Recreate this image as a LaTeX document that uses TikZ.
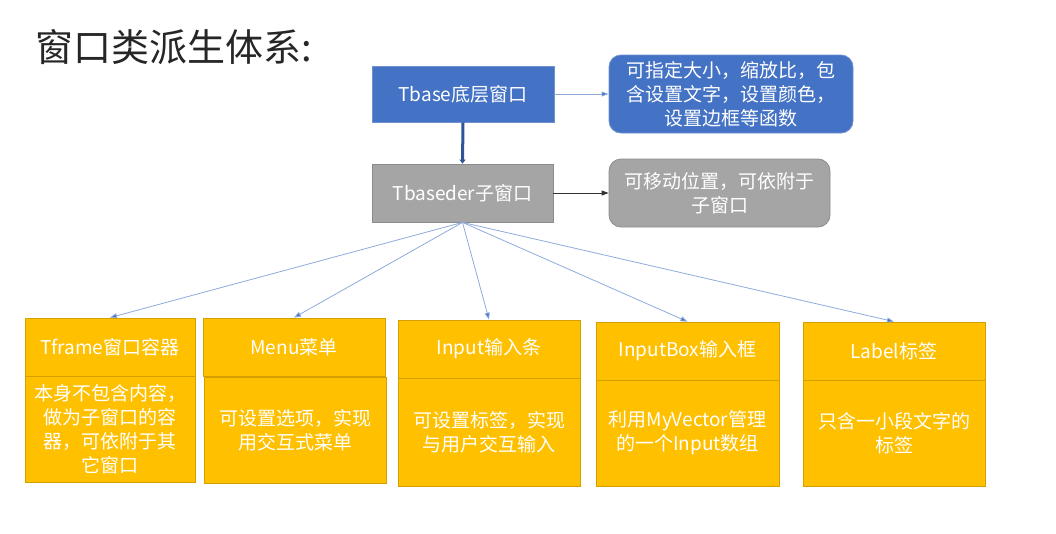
\documentclass[tikz,border=0pt]{standalone}
\usepackage{fontspec}
\setmainfont{Noto Sans CJK SC}
\usetikzlibrary{arrows.meta}
\definecolor{bfill}{HTML}{4472C4}
\definecolor{bline}{HTML}{7090D0}
\definecolor{gfill}{HTML}{A5A5A5}
\definecolor{gline}{HTML}{8C8C8C}
\definecolor{yfill}{HTML}{FFC000}
\definecolor{yline}{HTML}{D4A000}
\definecolor{conn}{HTML}{8FAADC}
\definecolor{tipb}{HTML}{4472C4}
\definecolor{darkb}{HTML}{2F5597}
\definecolor{titlec}{HTML}{262626}
\tikzset{
  box/.style={inner sep=0pt, align=center, text=white, line width=0.8pt,
    font=\fontsize{19}{24}\selectfont},
  bluebox/.style={box, fill=bfill, draw=bline},
  graybox/.style={box, fill=gfill, draw=gline},
  ybox/.style={box, fill=yfill, draw=yline},
  conline/.style={draw=conn, line width=0.8pt, -{Triangle[length=7pt,width=5pt,fill=tipb]}},
}
\begin{document}
\begin{tikzpicture}[x=1pt,y=-1pt]
\useasboundingbox (0,0) rectangle (1056,533);
% title
\node[anchor=west, text=titlec, font=\fontsize{38}{42}\selectfont, inner sep=0pt] (title) at (35,47) {窗口类派生体系:};
% upper boxes
\node[bluebox, minimum width=182pt, minimum height=56pt] (tbase) at (463,94) {Tbase底层窗口};
\node[graybox, minimum width=181pt, minimum height=58pt] (tbd) at (462.5,193) {Tbaseder子窗口};
\node[bluebox, rounded corners=12pt, minimum width=244pt, minimum height=78pt] (note1) at (731,94) {可指定大小，缩放比，包\\含设置文字，设置颜色，\\设置边框等函数};
\node[graybox, rounded corners=12pt, minimum width=221pt, minimum height=68pt] (note2) at (719.5,193) {可移动位置，可依附于\\子窗口};
% lower boxes
\node[ybox, minimum width=170pt, minimum height=58pt] (tframe) at (110,347) {Tframe窗口容器};
\node[ybox, minimum width=170pt, minimum height=106pt] (tframeD) at (110,429) {本身不包含内容，\\做为子窗口的容\\器，可依附于其\\它窗口};
\node[ybox, minimum width=182pt, minimum height=58pt] (menu) at (294,347) {Menu菜单};
\node[ybox, minimum width=182pt, minimum height=106pt] (menuD) at (295,430) {可设置选项，实现\\用交互式菜单};
\node[ybox, minimum width=182pt, minimum height=58pt] (input) at (489,349) {Input输入条};
\node[ybox, minimum width=182pt, minimum height=108pt] (inputD) at (489,432) {可设置标签，实现\\与用户交互输入};
\node[ybox, minimum width=183pt, minimum height=58pt] (ibox) at (687.5,351) {InputBox输入框};
\node[ybox, minimum width=183pt, minimum height=106pt] (iboxD) at (687.5,433) {利用MyVector管理\\的一个Input数组};
\node[ybox, minimum width=182pt, minimum height=58pt] (label) at (894,351) {Label标签};
\node[ybox, minimum width=182pt, minimum height=106pt] (labelD) at (894,433) {只含一小段文字的\\标签};
% connectors
\draw[darkb, line width=3pt, -{Triangle[length=4pt,width=6pt]}] (tbase.south) -- (tbd.north);
\draw[conline] (tbase.east) -- (note1.west);
\draw[draw=black!80, line width=0.8pt, -{Triangle[length=7pt,width=5pt]}] (tbd.east) -- (note2.west);
\draw[conline] (tbd.south) -- (tframe.north);
\draw[conline] (tbd.south) -- (menu.north);
\draw[conline] (tbd.south) -- (input.north);
\draw[conline] (tbd.south) -- (ibox.north);
\draw[conline] (tbd.south) -- (label.north);
\end{tikzpicture}
\end{document}
